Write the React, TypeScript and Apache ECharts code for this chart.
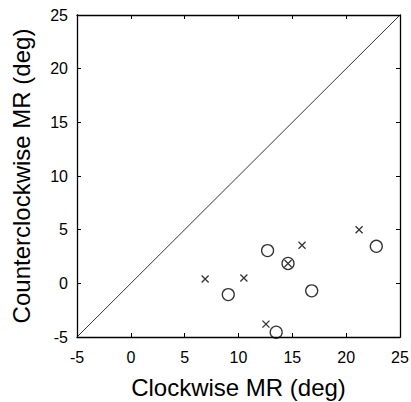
import React, { useEffect, useRef } from "react";
import * as echarts from "echarts";

const xTicks = [-5, 0, 5, 10, 15, 20, 25];
const circlePoints: [number, number][] = [
  [9.05, -1.05],
  [12.7, 3.05],
  [14.6, 1.85],
  [16.8, -0.7],
  [22.8, 3.45],
  [13.5, -4.55],
];
const crossPoints: [number, number][] = [
  [6.9, 0.4],
  [10.5, 0.5],
  [14.6, 1.85],
  [15.9, 3.55],
  [21.2, 5.0],
  [12.55, -3.8],
];
const diagonal: [number, number][] = [
  [-5, -5],
  [25, 25],
];

const FONT = "Liberation Sans, Arial, Helvetica, sans-serif";

export default function App() {
  const ref = useRef<HTMLDivElement>(null);
  useEffect(() => {
    if (!ref.current) return;
    const chart = echarts.init(ref.current, undefined, { renderer: "svg" });
    const axisCommon = {
      type: "value" as const,
      min: xTicks[0],
      max: xTicks[xTicks.length - 1],
      interval: 5,
      splitLine: { show: false },
      axisLine: { show: true, onZero: false, lineStyle: { color: "#000", width: 1.3 } },
      axisTick: { show: true, inside: true, length: 4, lineStyle: { color: "#000", width: 1 } },
    };
    chart.setOption({
      animation: false,
      backgroundColor: "#fff",
      textStyle: { fontFamily: FONT },
      grid: { left: 77, right: 11, top: 15, bottom: 65, containLabel: false, outerBoundsMode: "none" },
      xAxis: [
        {
          ...axisCommon,
          position: "bottom",
          name: "Clockwise MR (deg)",
          nameLocation: "middle",
          nameGap: 38,
          nameTextStyle: { fontSize: 24, color: "#000", fontFamily: FONT },
          axisLabel: { fontSize: 16, color: "#000", margin: 12, fontFamily: FONT },
        },
        {
          ...axisCommon,
          position: "top",
          axisLabel: { show: false },
        },
      ],
      yAxis: [
        {
          ...axisCommon,
          position: "left",
          name: "Counterclockwise MR (deg)",
          nameLocation: "middle",
          nameGap: 44,
          nameTextStyle: { fontSize: 24, color: "#000", fontFamily: FONT },
          axisLabel: { fontSize: 16, color: "#000", margin: 9, fontFamily: FONT },
        },
        {
          ...axisCommon,
          position: "right",
          axisLabel: { show: false },
        },
      ],
      series: [
        {
          type: "line",
          data: diagonal,
          symbol: "none",
          lineStyle: { color: "#000", width: 0.8 },
          silent: true,
        },
        {
          type: "scatter",
          data: circlePoints,
          symbol: "circle",
          symbolSize: 12,
          itemStyle: { color: "rgba(0,0,0,0)", borderColor: "#000", borderWidth: 1.3 },
        },
        {
          type: "scatter",
          data: crossPoints,
          symbol: "path://M0,0L10,10M10,0L0,10",
          symbolSize: 7,
          itemStyle: { color: "none", borderColor: "#000", borderWidth: 1.3 },
        },
      ],
    });
    return () => chart.dispose();
  }, []);
  return (
    <div
      ref={ref}
      style={{ position: "fixed", left: 0, top: 0, width: 411, height: 402, background: "#fff" }}
    />
  );
}
